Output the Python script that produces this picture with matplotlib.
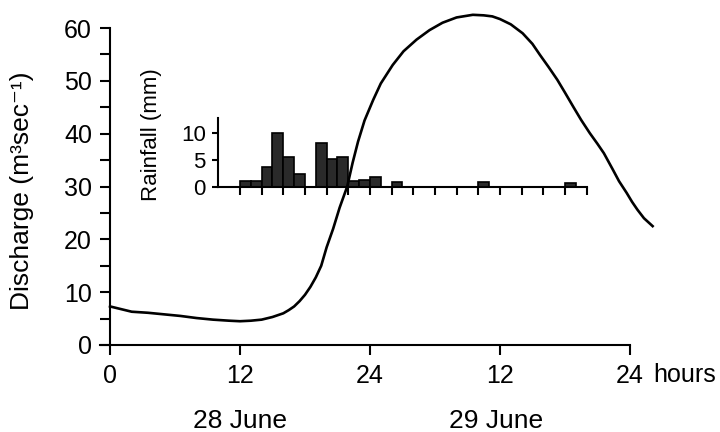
import numpy as np
import matplotlib
matplotlib.use('Agg')
import matplotlib.pyplot as plt
import matplotlib.transforms as mtransforms

plt.rcParams['font.family'] = ['Liberation Sans', 'DejaVu Sans']

# Discharge hydrograph, hours from 0:00 on 28 June
hours = [0, 1, 2, 3.5, 5, 6.5, 8, 9.5, 11, 12, 13, 14, 15, 16, 16.5, 17, 17.5,
         18, 18.5, 19, 19.5, 20, 20.6, 21.2, 21.9, 22.4, 22.9, 23.5, 24.3, 25,
         26.1, 27.1, 28.3, 29.5, 30.7, 32, 33.5, 34.5, 35.3, 36, 37, 38.1,
         39, 39.7, 40.5, 41.3, 42, 42.8, 43.5, 44.3, 45, 45.6, 46.4, 47, 47.7,
         48.2, 48.7, 49.3, 50.1]
discharge = [7.3, 6.8, 6.3, 6.1, 5.8, 5.5, 5.1, 4.8, 4.6, 4.5, 4.6, 4.8, 5.3,
             6.0, 6.6, 7.3, 8.3, 9.5, 11, 12.8, 15, 18.5, 22, 26, 30, 34.5,
             38.5, 42.5, 46.4, 49.5, 53, 55.6, 57.8, 59.6, 61, 62, 62.5, 62.4,
             62.2, 61.7, 60.7, 59, 57, 54.9, 52.6, 50.2, 47.8, 45, 42.6, 40.1,
             38.1, 36.3, 33.3, 31, 28.8, 27.1, 25.6, 24, 22.5]

# Hourly rainfall (mm), bar starts at each hour
rain_hours = list(range(10, 44))
rainfall = [0, 0, 1.0, 1.0, 3.7, 10, 5.5, 2.3, 0, 8.1, 5.1, 5.4, 1.0, 1.2, 1.7,
            0, 0.9, 0, 0, 0, 0, 0, 0, 0, 0.8, 0, 0, 0, 0, 0, 0, 0, 0.6, 0]

xtick_pos = [0, 12, 24, 36, 48]
xtick_labels = ['0', '12', '24', '12', '24']

fig = plt.figure(figsize=(7.2, 4.32), dpi=100)
ax = fig.add_axes([99.2 / 720, 87 / 432, 574 / 720, 343.4 / 432])
ax.set_xlim(-1, 52)
ax.set_ylim(0, 65)

ax.plot(hours, discharge, color='black', lw=1.9, zorder=6, clip_on=False,
        solid_joinstyle='round')

for s in ['top', 'right']:
    ax.spines[s].set_visible(False)
ax.spines['left'].set_position(('data', 0))
ax.spines['left'].set_bounds(0, 60)
ax.spines['bottom'].set_bounds(-0.9, 48)
for s in ['left', 'bottom']:
    ax.spines[s].set_linewidth(1.5)

ax.set_xticks(xtick_pos)
ax.set_xticklabels(xtick_labels)
ax.set_yticks(range(0, 61, 10))
ax.set_yticks(range(5, 60, 10), minor=True)
ax.tick_params(axis='x', direction='out', length=7.5, width=1.5, pad=6, labelsize=18)
ax.tick_params(axis='y', which='both', direction='out', length=7, width=1.5,
               pad=6, labelsize=18)

# labels placed in figure pixels
fig.text(22 / 720, 1 - 191 / 432, 'Discharge (m³sec⁻¹)', rotation=90,
         ha='center', va='center', fontsize=19)
fig.text(152 / 720, 1 - 135 / 432, 'Rainfall (mm)', rotation=90,
         ha='center', va='center', fontsize=16)

xdata_yfig = mtransforms.blended_transform_factory(ax.transData, fig.transFigure)
ax.text(50.2, 1 - 375 / 432, 'hours', transform=xdata_yfig, ha='left',
        va='center', fontsize=18)
ax.text(12, 1 - 421 / 432, '28 June', transform=xdata_yfig, ha='center',
        va='center', fontsize=19)
ax.text(35.6, 1 - 421 / 432, '29 June', transform=xdata_yfig, ha='center',
        va='center', fontsize=19)

# rainfall inset sharing the time axis
ins = ax.inset_axes([10, 30, 34, 12.95], transform=ax.transData)
ins.set_facecolor('none')
ins.bar(rain_hours, rainfall, width=1, align='edge', color='#2a2a2a',
        edgecolor='black', linewidth=1.2)
ins.set_xlim(10, 44)
ins.set_ylim(0, 12.7)
for s in ['top', 'right']:
    ins.spines[s].set_visible(False)
for s in ['left', 'bottom']:
    ins.spines[s].set_linewidth(1.5)
ins.set_xticks(range(12, 45, 2))
ins.set_xticklabels([])
ins.set_yticks([0, 5, 10])
ins.tick_params(axis='x', direction='out', length=6, width=1.5)
ins.tick_params(axis='y', direction='out', length=4, width=1.5, pad=5,
                labelsize=16)

fig.savefig('out.png', dpi=100)
